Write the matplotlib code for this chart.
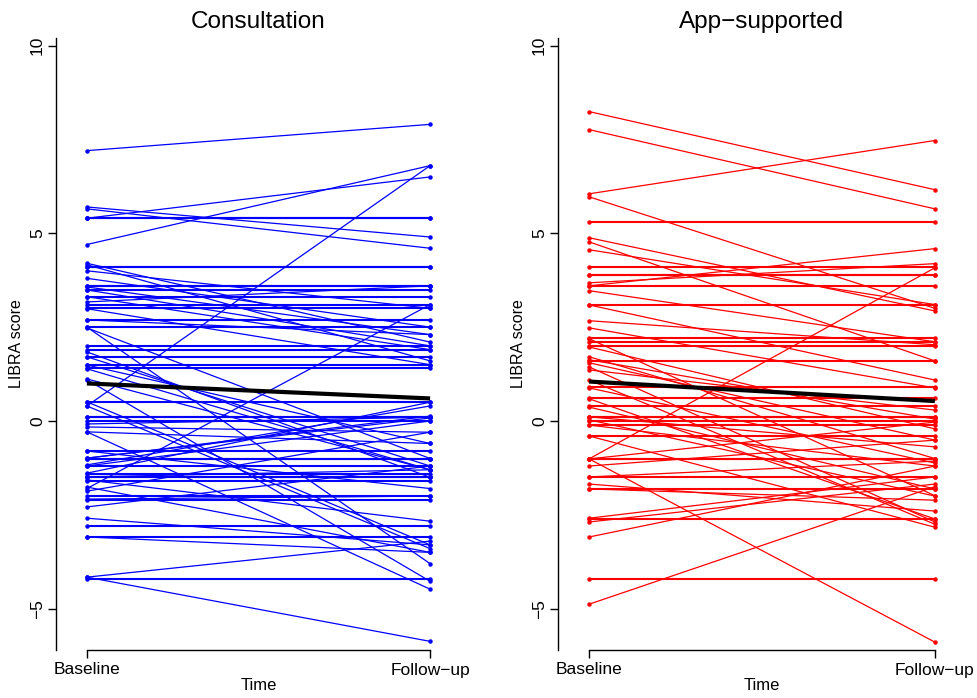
import matplotlib
matplotlib.use("Agg")
import matplotlib.pyplot as plt

plt.rcParams['font.family'] = ['Liberation Sans', 'DejaVu Sans']

titles = ["Consultation", "App\u2212supported"]
time_labels = ["Baseline", "Follow\u2212up"]

# Consultation group: baseline / follow-up LIBRA scores per participant
cons_base = [7.2, 5.7, 5.65, 5.4, 4.7, 0.4, 4.2, 4.16, 4.0, 3.8, 3.57, 3.49, 3.31, 3.17,
             2.99, 2.69, 2.48, 2.5, 1.84, 1.71, 1.49, 1.39, 1.12, 0.51, 0.4, -0.08, -0.16,
             -0.29, -0.8, -0.99, -1.17, -1.39, -1.49, -1.57, -1.76, -1.87, -1.8, -2.08,
             -2.29, -2.59, -3.09, -4.16, -4.16, 1.1, -0.29, -0.99, -1.2,
             5.4, 5.4, 4.1, 4.1, 3.6, 3.5, 3.3, 3.1, 3.0, 2.7, 2.5, 2.0, 1.9, 1.7, 1.5, 1.4,
             0.5, 0.1, 0.0, -0.8, -1.0, -1.2, -1.4, -1.5, -1.6, -2.0, -2.1, -2.8, -3.1,
             -4.2, -1.0, -1.5, 3.6, 0.1]
cons_follow = [7.9, 4.9, 4.6, 6.5, 6.8, 6.8, 2.1, 1.6, 3.0, 2.5, 2.3, 2.0, 1.9, 3.6,
               1.5, 2.3, -1.0, -3.8, -1.5, -1.2, -0.6, -1.3, -1.3, -3.3, -3.4, 0.1, -0.3,
               -0.6, -1.8, 0.13, 0.4, 0.5, -1.3, -2.67, -3.5, -0.3, 3.1, -2.0,
               -1.2, -3.3, -3.5, -3.2, -5.87, -4.27, -4.48, 0.08, 0.0,
               5.4, 5.4, 4.1, 4.1, 3.6, 3.5, 3.3, 3.1, 3.0, 2.7, 2.5, 2.0, 1.9, 1.7, 1.5, 1.4,
               0.5, 0.1, 0.0, -0.8, -1.0, -1.2, -1.4, -1.5, -1.6, -2.0, -2.1, -2.8, -3.1,
               -4.2, -1.0, -1.5, 3.6, 0.1]

# App-supported group
app_base = [8.24, 7.76, 6.05, 5.97, 4.88, 4.77, 4.56, 3.68, 3.6, 3.47, 3.09, 2.67, 2.48,
            1.97, 1.71, 1.55, 1.44, 1.36, 1.09, 0.88, 0.59, 0.37, 0.11, -0.11, -1.01,
            -1.01, -1.2, -1.49, -1.68, -1.81, -2.59, -2.69, -3.09, -4.88, -0.4, 2.19,
            1.63, -1.01, 0.03,
            5.3, 4.1, 3.9, 3.6, 3.1, 2.2, 2.1, 2.0, 1.6, 0.9, 0.6, 0.4, 0.1, 0.0, -0.1,
            -0.4, -1.0, -1.5, -1.8, -2.6, -4.2, 3.9, 0.1, -1.0]
app_follow = [6.16, 5.65, 7.47, 3.0, 2.93, 1.6, 3.1, 4.19, 4.59, 2.11, 1.09, 2.03, 0.88,
              -0.21, -1.0, -0.51, -2.69, 0.29, -2.75, -1.12, -2.61, -1.81, -0.69, -1.2,
              -5.89, 4.08, -0.51, -1.07, -2.4, -2.11, -1.49, -1.68, -1.2, -1.75, -2.83,
              -1.99, 0.05, -0.03, -2.0,
              5.3, 4.1, 3.9, 3.6, 3.1, 2.2, 2.1, 2.0, 1.6, 0.9, 0.6, 0.4, 0.1, 0.0, -0.1,
              -0.4, -1.0, -1.5, -1.8, -2.6, -4.2, 3.9, 0.1, -1.0]

# Group means at baseline / follow-up
cons_mean = [1.0, 0.6]
app_mean = [1.05, 0.53]

groups = [(cons_base, cons_follow, cons_mean, "#0000FF"),
          (app_base, app_follow, app_mean, "#FF0000")]

fig = plt.figure(figsize=(9.77, 6.98), dpi=100)
W, H = 977, 698
axes_px = [(56, 461), (558, 966)]
top_px, bot_px = 38, 650
xlim = (0.91, 2.09)
ylim = (-6.1, 10.2)

for i, ((b, f, m, col), (l, r)) in enumerate(zip(groups, axes_px)):
    ax = fig.add_axes([l / W, 1 - bot_px / H, (r - l) / W, (bot_px - top_px) / H])
    for bv, fv in zip(b, f):
        lw = 1.5 if bv == fv else 0.9
        ax.plot([1, 2], [bv, fv], color=col, lw=lw, marker='o', ms=2.2,
                mec=col, mfc=col, solid_capstyle='butt')
    ax.plot([1, 2], m, color='black', lw=3.0, solid_capstyle='butt')
    ax.set_xlim(*xlim)
    ax.set_ylim(*ylim)
    for s in ['top', 'right']:
        ax.spines[s].set_visible(False)
    ax.spines['bottom'].set_bounds(1, 2)
    ax.spines['left'].set_bounds(*ylim)
    ax.spines['left'].set_linewidth(1.0)
    ax.spines['bottom'].set_linewidth(1.0)
    ax.set_xticks([1, 2])
    ax.set_xticklabels(time_labels, fontsize=12.5)
    ax.set_yticks([-5, 0, 5, 10])
    ax.set_yticklabels(["\u22125", "0", "5", "10"], fontsize=12.5, rotation=90, va='center')
    ax.tick_params(axis='y', direction='out', length=6, width=1.0, pad=2)
    ax.tick_params(axis='x', direction='out', length=6, width=1.0, pad=3)
    ax.set_xlabel("Time", fontsize=12, labelpad=0)
    ax.set_ylabel("LIBRA score", fontsize=11.5, labelpad=4)
    ax.set_title(titles[i], fontsize=17.5, pad=7)

fig.savefig("out.png", dpi=100)
